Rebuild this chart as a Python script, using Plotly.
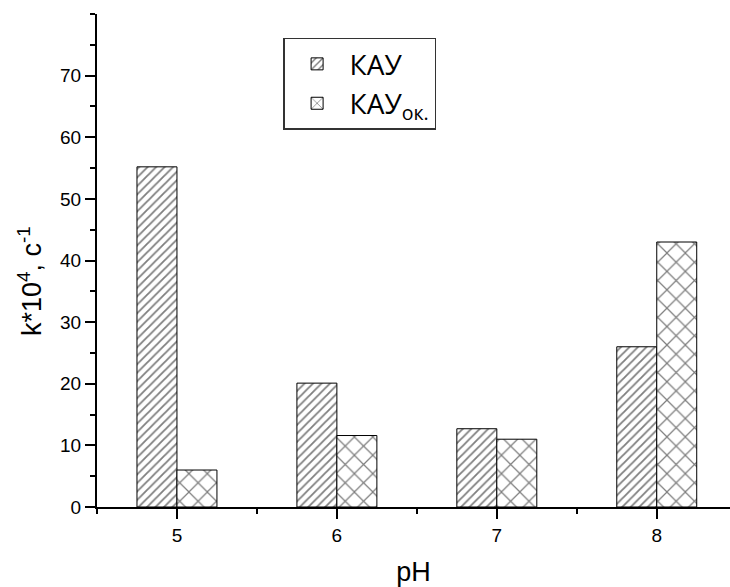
import plotly.graph_objects as go

ph = [5, 6, 7, 8]
kau = [55.2, 20.1, 12.7, 26.0]
kau_ok = [6.0, 11.6, 11.0, 43.0]
y_ticks = [0, 10, 20, 30, 40, 50, 60, 70]

fig = go.Figure()
fig.add_trace(go.Bar(
    x=ph, y=kau, name="КАУ",
    marker=dict(color="white", line=dict(color="black", width=1),
                pattern=dict(shape="/", fgcolor="black", bgcolor="white",
                             size=6, solidity=0.3)),
))
fig.add_trace(go.Bar(
    x=ph, y=kau_ok, name="КАУ<sub>ок.</sub>",
    marker=dict(color="white", line=dict(color="black", width=1),
                pattern=dict(shape="x", fgcolor="black", bgcolor="white",
                             size=13, solidity=0.18)),
))

axis_font = dict(family="Liberation Sans, Arial, sans-serif", size=19, color="black")
title_font = dict(family="Liberation Sans, Arial, sans-serif", size=27, color="black")
fig.update_layout(
    width=730, height=587,
    margin=dict(l=97, r=0, t=14, b=80),
    paper_bgcolor="white", plot_bgcolor="white",
    barmode="group", bargap=0.5, bargroupgap=0,
    showlegend=True,
    legend=dict(
        x=0.294, y=0.952, xanchor="left", yanchor="top",
        font=dict(family="Open Sans, sans-serif", size=28, color="black"),
        bordercolor="#333", borderwidth=1.5, bgcolor="white",
        tracegroupgap=0, itemwidth=55,
    ),
    xaxis=dict(
        range=[4.5, 8.458], tickmode="array", tickvals=ph,
        ticktext=[str(v) for v in ph],
        showline=True, linecolor="black", linewidth=2,
        ticks="outside", ticklen=10, tickwidth=1.5, tickcolor="black",
        minor=dict(tickmode="array", tickvals=[4.5, 5.5, 6.5, 7.5], ticks="outside",
                   ticklen=5, tickwidth=1.5, tickcolor="black", showgrid=False),
        showgrid=False, zeroline=False,
        tickfont=axis_font,
        title=dict(text="pH", font=title_font, standoff=18),
    ),
    yaxis=dict(
        range=[0, 80], tickmode="array", tickvals=y_ticks,
        showline=True, linecolor="black", linewidth=2,
        ticks="outside", ticklen=10, tickwidth=1.5, tickcolor="black",
        minor=dict(dtick=5, tick0=5, ticks="outside", ticklen=5, tickwidth=1.5,
                   tickcolor="black", showgrid=False),
        showgrid=False, zeroline=False,
        tickfont=axis_font,
    ),
    annotations=[dict(
        text="k*10<sup>4</sup>, c<sup>-1</sup>", textangle=-90,
        xref="paper", yref="paper", x=-0.106, y=0.458,
        xanchor="center", yanchor="middle", showarrow=False, font=title_font,
    )],
)

fig.write_html("out.html")
